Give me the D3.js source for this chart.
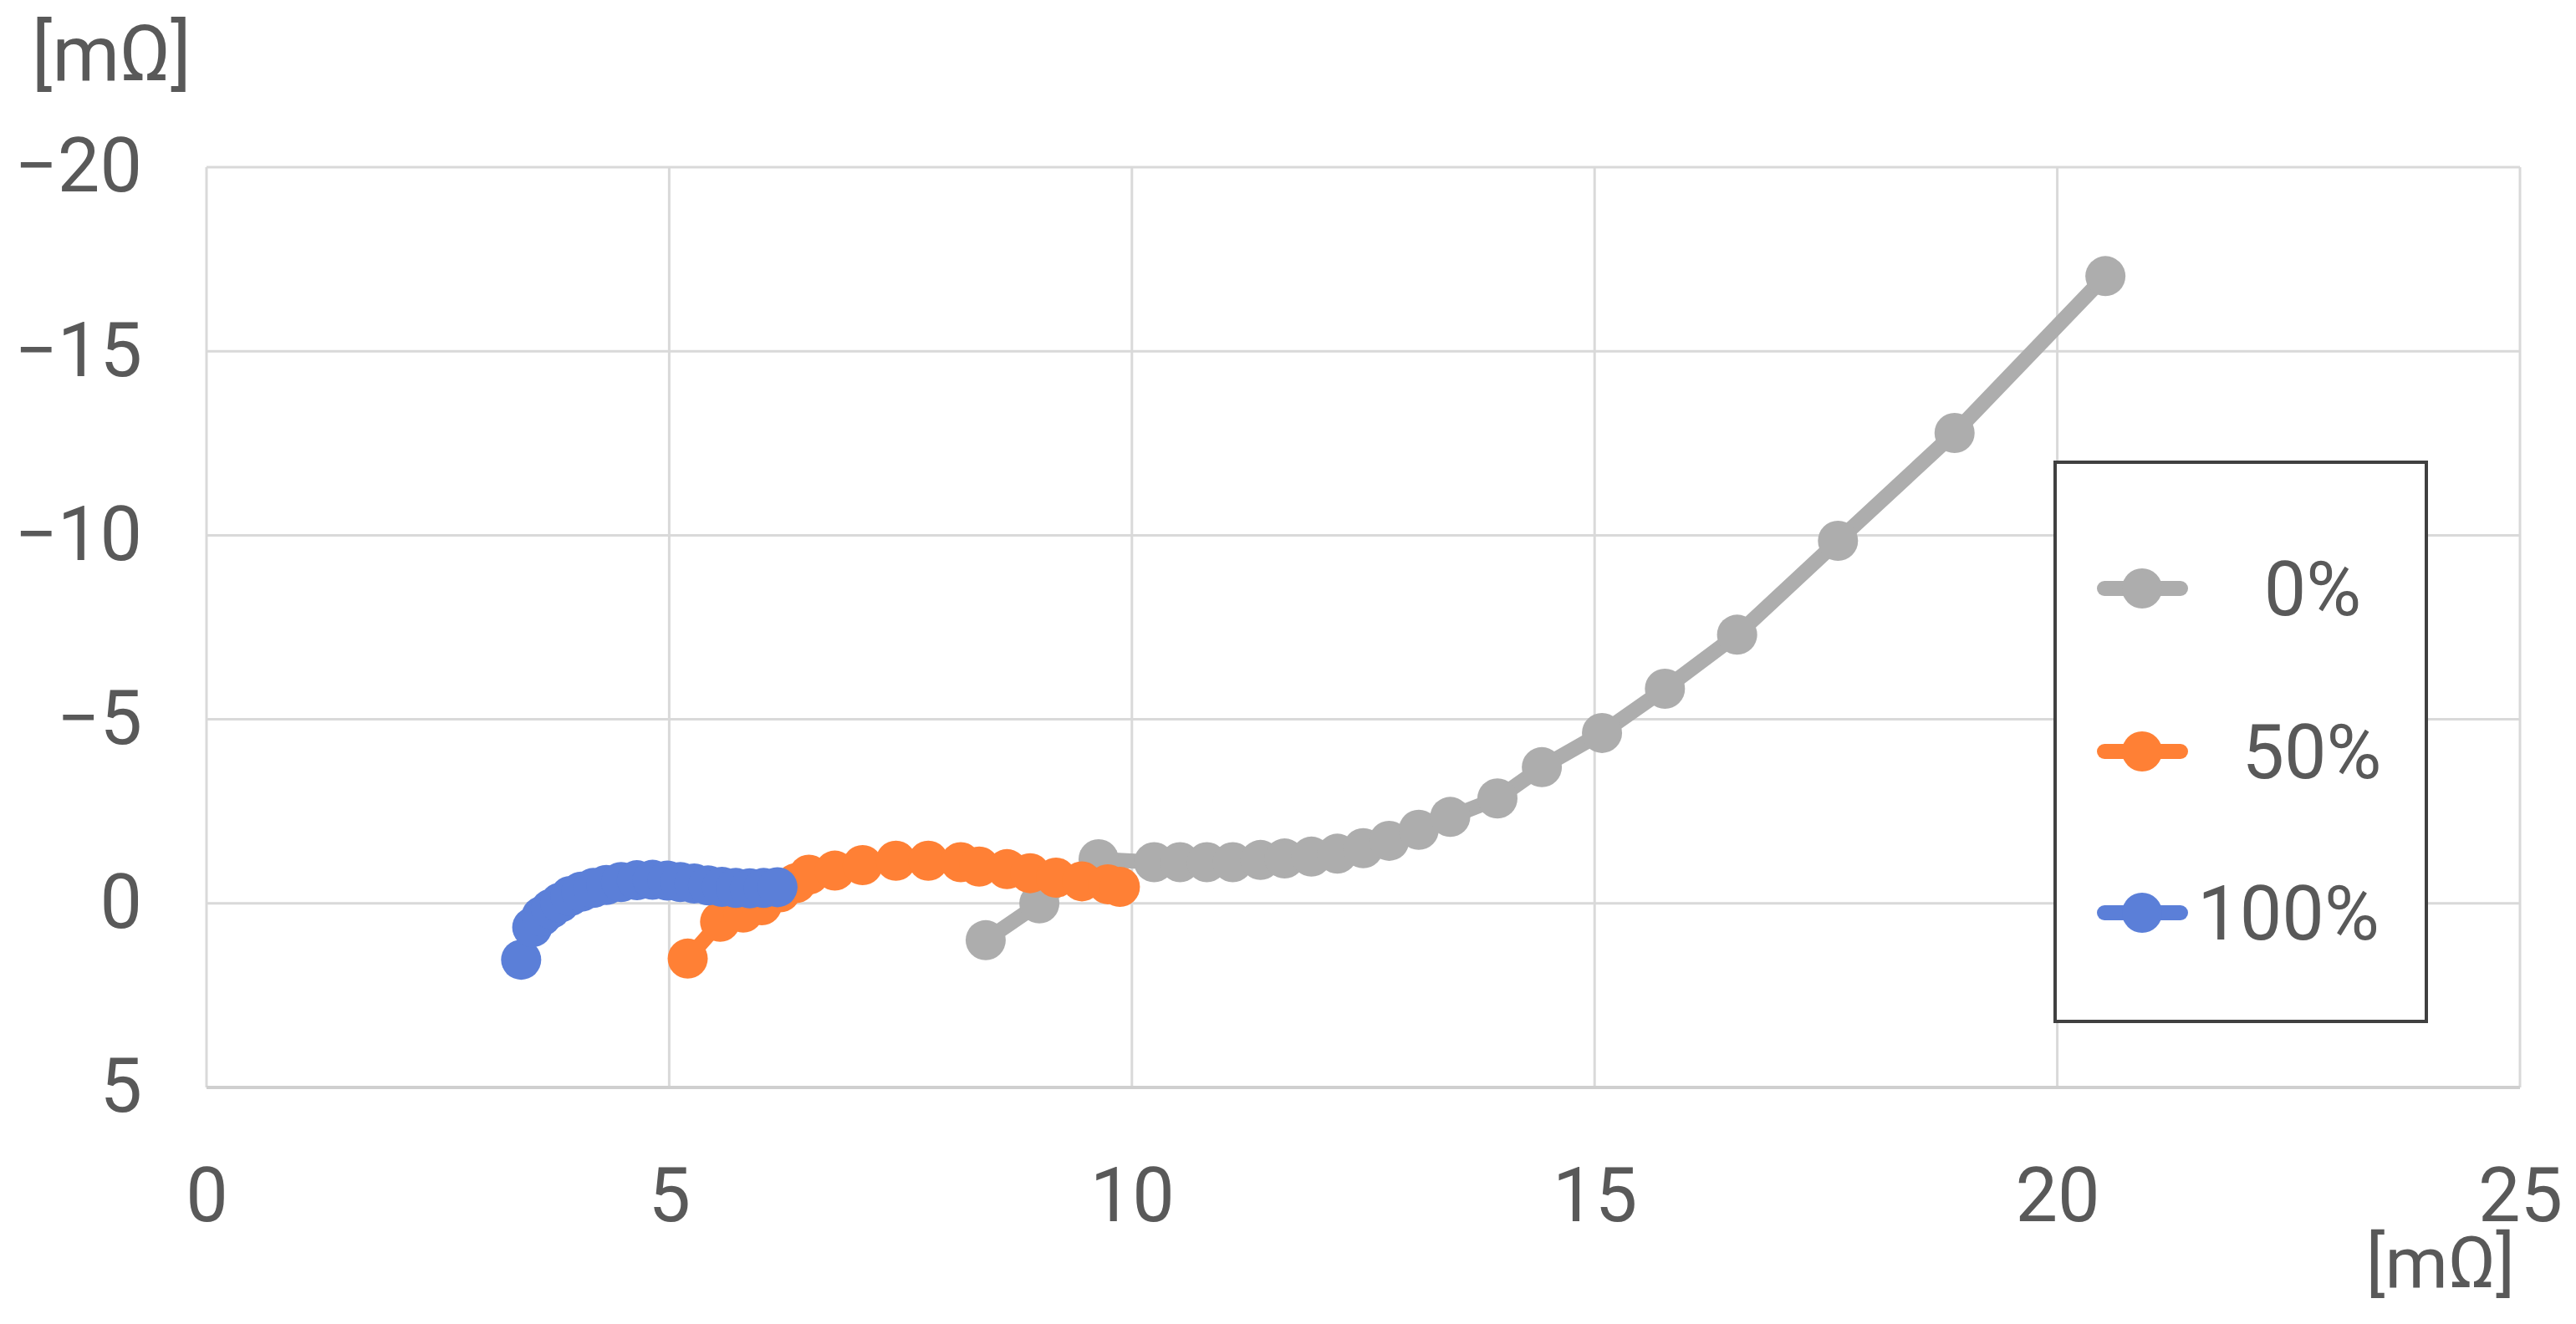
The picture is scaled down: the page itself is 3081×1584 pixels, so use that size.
<!DOCTYPE html>
<html>
<head>
<meta charset="utf-8">
<script src="https://cdn.jsdelivr.net/npm/d3@7"></script>
<style>
  html, body { margin: 0; padding: 0; background: #ffffff; }
  svg { display: block; }
  text { font-family: Roboto, "Noto Sans", sans-serif; fill: #595959; }
</style>
</head>
<body>
<svg id="chart" width="3081" height="1584"></svg>
<script>
// ---- data ----
const seriesNames = ["0%", "50%", "100%"];
const seriesColors = ["#ADADAD", "#FF8035", "#5B7FD8"];
const xTicks = [0, 5, 10, 15, 20, 25];
const yTicks = [-20, -15, -10, -5, 0, 5];
const unitLabel = "[mΩ]";

const series0 = [
  [8.42, 1.0], [9.0, 0.0], [9.64, -1.2], [10.24, -1.12], [10.52, -1.12],
  [10.81, -1.12], [11.09, -1.12], [11.39, -1.18], [11.65, -1.22], [11.94, -1.27],
  [12.22, -1.35], [12.5, -1.5], [12.78, -1.7], [13.1, -2.0], [13.44, -2.35],
  [13.95, -2.85], [14.43, -3.7], [15.08, -4.63], [15.76, -5.83], [16.54, -7.3],
  [17.63, -9.85], [18.89, -12.78], [20.52, -17.04]
];
const series50 = [
  [5.2, 1.5], [5.55, 0.5], [5.8, 0.25], [6.0, 0.05], [6.2, -0.3],
  [6.37, -0.55], [6.51, -0.78], [6.79, -0.89], [7.09, -1.04], [7.45, -1.16],
  [7.8, -1.16], [8.15, -1.12], [8.35, -1.0], [8.65, -0.93], [8.9, -0.82],
  [9.18, -0.7], [9.46, -0.6], [9.74, -0.52], [9.87, -0.45]
];
const series100 = [
  [3.40, 1.53], [3.52, 0.65], [3.62, 0.35], [3.72, 0.15], [3.82, -0.02],
  [3.93, -0.2], [4.05, -0.32], [4.18, -0.42], [4.32, -0.5], [4.48, -0.58],
  [4.65, -0.63], [4.82, -0.64], [4.98, -0.62], [5.12, -0.58], [5.27, -0.54],
  [5.42, -0.49], [5.57, -0.45], [5.72, -0.42], [5.87, -0.41], [6.02, -0.42],
  [6.17, -0.44]
];
const allSeries = [series0, series50, series100];

// ---- layout ----
const plotLeft = 247, plotRight = 3014, plotTop = 200, plotBottom = 1301;
const svg = d3.select("#chart");
svg.append("rect").attr("width", 3081).attr("height", 1584).attr("fill", "#fff");

const x = d3.scaleLinear().domain([0, 25]).range([plotLeft, plotRight]);
const y = d3.scaleLinear().domain([-20, 5]).range([plotTop, plotBottom]);

// gridlines
const grid = svg.append("g");
grid.selectAll("line.v").data(xTicks).join("line").attr("class", "v")
  .attr("x1", d => x(d)).attr("x2", d => x(d))
  .attr("y1", plotTop).attr("y2", plotBottom)
  .attr("stroke", "#D9D9D9").attr("stroke-width", 3);
grid.selectAll("line.h").data(yTicks).join("line").attr("class", "h")
  .attr("x1", plotLeft).attr("x2", plotRight)
  .attr("y1", d => y(d)).attr("y2", d => y(d))
  .attr("stroke", d => d === 5 ? "#CFCFCF" : "#D9D9D9")
  .attr("stroke-width", d => d === 5 ? 4 : 3);

// y axis labels
const yAxis = d3.axisLeft(y).tickValues(yTicks).tickSize(0).tickPadding(77)
  .tickFormat(d => d < 0 ? "\u2212" + Math.abs(d) : String(d));
const gy = svg.append("g").attr("transform", `translate(${plotLeft},0)`).call(yAxis);
gy.select(".domain").remove();
gy.selectAll("text").attr("font-size", 90).attr("fill", "#595959")
  .attr("font-family", "Roboto, 'Noto Sans', sans-serif");

// x axis labels
const xAxis = d3.axisBottom(x).tickValues(xTicks).tickSize(0).tickPadding(0)
  .tickFormat(d => String(d));
const gx = svg.append("g").attr("transform", `translate(0,${plotBottom})`).call(xAxis);
gx.select(".domain").remove();
gx.selectAll("text").attr("font-size", 90).attr("fill", "#595959")
  .attr("font-family", "Roboto, 'Noto Sans', sans-serif")
  .attr("dy", null).attr("y", 160);

// unit labels
svg.append("text").attr("x", 38).attr("y", 96).attr("font-size", 92).text(unitLabel);
svg.append("text").attr("x", 3008).attr("y", 1540).attr("text-anchor", "end")
  .attr("font-size", 86).text(unitLabel);

// series
const line = d3.line().x(d => x(d[0])).y(d => y(d[1]));
allSeries.forEach((data, i) => {
  const g = svg.append("g");
  g.append("path").datum(data).attr("d", line)
    .attr("fill", "none").attr("stroke", seriesColors[i])
    .attr("stroke-width", 18).attr("stroke-linejoin", "round").attr("stroke-linecap", "round");
  g.selectAll("circle").data(data).join("circle")
    .attr("cx", d => x(d[0])).attr("cy", d => y(d[1])).attr("r", 24)
    .attr("fill", seriesColors[i]);
});

// legend
const lg = svg.append("g");
lg.append("rect").attr("x", 2458).attr("y", 553).attr("width", 444).attr("height", 669)
  .attr("fill", "#fff").attr("stroke", "#404040").attr("stroke-width", 4);
const legendY = [704, 899, 1092];
const legendTextX = [2766, 2765, 2737];
seriesNames.forEach((name, i) => {
  lg.append("line").attr("x1", 2517).attr("x2", 2608)
    .attr("y1", legendY[i]).attr("y2", legendY[i])
    .attr("stroke", seriesColors[i]).attr("stroke-width", 18).attr("stroke-linecap", "round");
  lg.append("circle").attr("cx", 2562).attr("cy", legendY[i]).attr("r", 24)
    .attr("fill", seriesColors[i]);
  lg.append("text").attr("x", legendTextX[i]).attr("y", legendY[i])
    .attr("dy", "0.35em").attr("text-anchor", "middle")
    .attr("font-size", 90).text(name);
});
</script>
</body>
</html>
